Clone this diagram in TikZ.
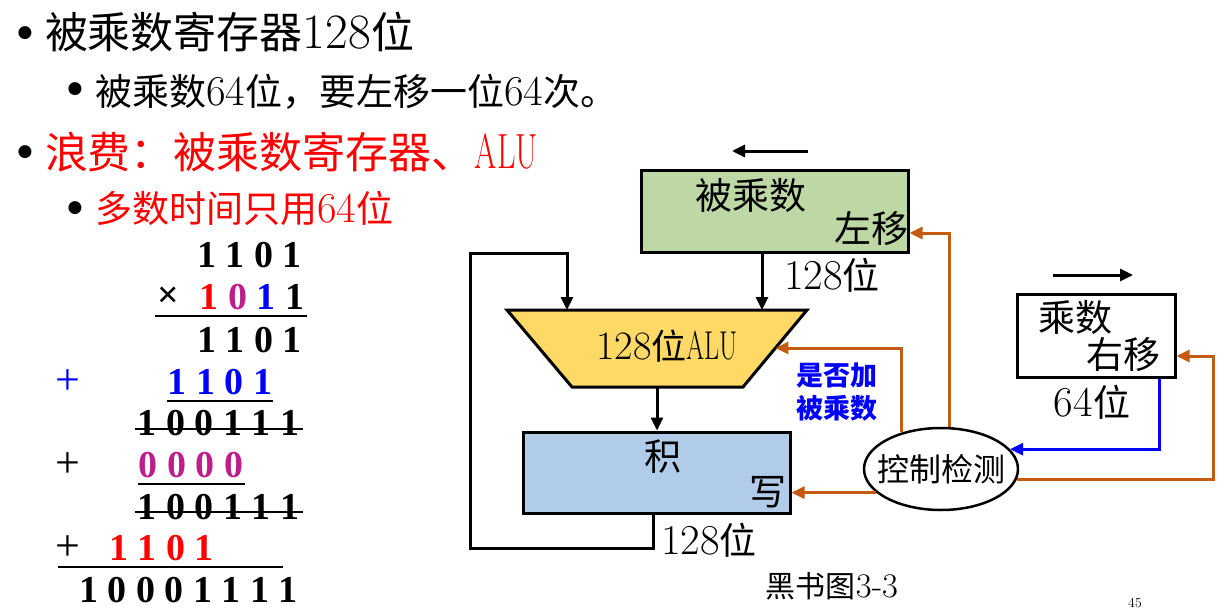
\documentclass[tikz,border=0pt]{standalone}
\usepackage{fontspec}
\usepackage{graphicx}
\setmainfont{Latin Modern Roman}[Scale=1.15]
\newfontfamily\cjk{Noto Sans CJK SC}
\newfontfamily\tnr{Liberation Serif}
\newfontfamily\djv{DejaVu Sans}
\usetikzlibrary{arrows.meta,calc,shapes.geometric}
\definecolor{brn}{HTML}{C55A11}
\definecolor{grn}{RGB}{189,215,165}
\definecolor{gold}{HTML}{FFD966}
\definecolor{lblue}{RGB}{176,204,232}
\definecolor{purp}{RGB}{190,30,140}
\newcommand\zh[1]{{\cjk #1}}
\newcommand\nar[1]{\scalebox{0.65}[1]{#1}}
\newcommand\fs[1]{\fontsize{#1}{#1}\selectfont}
\begin{document}
\begin{tikzpicture}[x=1pt,y=-1pt,
  txt/.style={inner sep=0pt,outer sep=0pt},
  dig/.style={txt,font=\tnr\bfseries\fs{38}},
  pls/.style={txt,font=\tnr\fs{44}},
  bul/.style={txt,font=\djv\fs{17}},
  lab/.style={txt,font=\fs{37}},
  box/.style={draw,line width=3pt,inner sep=0pt},
  uline/.style={line width=2.5pt},
  sline/.style={line width=2pt},
  arr/.style={line width=3pt,line join=miter,-{Triangle[length=13pt,width=12pt]}},
  brarr/.style={arr,draw=brn},
  bluarr/.style={arr,draw=blue}]
\useasboundingbox (0,0) rectangle (1232,610);
\fill[white] (0,0) rectangle (1232,610);

% ---- bullet text ----
\node[bul] (b1) at (25,33) {●};
\node[txt,anchor=base west,font=\fs{43}] (t1) at (45,49) {\zh{被乘数寄存器}128\zh{位}};
\node[bul] (b2) at (75,89) {●};
\node[txt,anchor=base west,font=\fs{37}] (t2) at (95,105) {\zh{被乘数}64\zh{位，要左移一位}64\zh{次。}};
\node[bul] (b3) at (25,152) {●};
\node[txt,anchor=base west,font=\fs{43},text=red] (t3) at (45,168) {\zh{浪费：被乘数寄存器、}\nar{ALU}};
\node[bul] (b4) at (75,208) {●};
\node[txt,anchor=base west,font=\fs{37},text=red] (t4) at (95,222) {\zh{多数时间只用}64\zh{位}};

% ---- arithmetic ----
\node[dig] (r1) at (249.5,255) {1 1 0 1};
\node[dig] (mul) at (168,297) {×};
\node[dig] (r2) at (252,297) {\textcolor{red}{1} \textcolor{purp}{0} \textcolor{blue}{1} 1};
\coordinate (u1a) at (155,316); \coordinate (u1b) at (307,316);
\draw[uline] (u1a) -- (u1b);
\node[dig] (r3) at (249.5,340) {1 1 0 1};
\node[pls,text=blue] (p1) at (68,382) {+};
\node[dig,text=blue] (r4) at (220,382) {1 1 0 1};
\coordinate (u2a) at (167,401); \coordinate (u2b) at (273,401);
\draw[uline] (u2a) -- (u2b);
\node[dig] (r5) at (218.5,423) {1 0 0 1 1 1};
\coordinate (s1a) at (135,429); \coordinate (s1b) at (303,429);
\draw[sline] (s1a) -- (s1b);
\node[pls] (p2) at (68,465) {+};
\node[dig,text=purp] (r6) at (191,465) {0 0 0 0};
\coordinate (u3a) at (138,484); \coordinate (u3b) at (245,484);
\draw[uline] (u3a) -- (u3b);
\node[dig] (r7) at (218.5,507) {1 0 0 1 1 1};
\coordinate (s2a) at (135,512); \coordinate (s2b) at (303,512);
\draw[sline] (s2a) -- (s2b);
\node[pls] (p3) at (68,548) {+};
\node[dig,text=red] (r8) at (161.5,548) {1 1 0 1};
\coordinate (u4a) at (58,567); \coordinate (u4b) at (283,567);
\draw[uline] (u4a) -- (u4b);
\node[dig] (r9) at (188.5,590) {1 0 0 0 1 1 1 1};

% ---- multiplicand register ----
\node[box,fill=grn,minimum width=267pt,minimum height=82pt] (mc) at (774.5,211) {};
\node[lab] (mct) at (751,195) {\zh{被乘数}};
\node[lab] (mcs) at (871,229) {\zh{左移}};
\coordinate (ta1) at (808,151); \coordinate (ta2) at (732,151);
\draw[arr] (ta1) -- (ta2);

% ---- ALU ----
\coordinate (atl) at (507,310); \coordinate (atr) at (807,310);
\coordinate (abr) at (743,387); \coordinate (abl) at (572,387);
\draw[line width=3pt,fill=gold,line join=miter] (atl) -- (atr) -- (abr) -- (abl) -- cycle;
\node[txt,font=\fs{35}] (alu) at (667,346) {128\zh{位}\nar{ALU}};
\coordinate (alur) at ($(atr)!0.4935!(abr)$);

% ---- product register ----
\node[box,fill=lblue,minimum width=267pt,minimum height=81pt] (pr) at (656.5,472.5) {};
\node[lab] (prt) at (663,457) {\zh{积}};
\node[lab] (prs) at (768,492) {\zh{写}};

% ---- multiplier register ----
\node[box,fill=white,minimum width=158pt,minimum height=83pt] (mp) at (1096,335.5) {};
\node[lab] (mpt) at (1075,317) {\zh{乘数}};
\node[lab] (mps) at (1123,355) {\zh{右移}};
\coordinate (tb1) at (1053,275); \coordinate (tb2) at (1133,275);
\draw[arr] (tb1) -- (tb2);

% ---- control ----
\node[draw,ellipse,line width=2.5pt,minimum width=154pt,minimum height=82pt,inner sep=0pt,fill=white] (el) at (941,469) {};
\node[txt,font=\fs{32}] (elt) at (941,469) {\zh{控制检测}};

% ---- black datapath ----
\coordinate (x762) at (762,310);
\draw[arr] (mc.south -| x762) -- (x762);
\coordinate (lp1) at (653,548); \coordinate (lp2) at (470,548);
\coordinate (lp3) at (470,253); \coordinate (lp4) at (567,253);
\coordinate (lp5) at (567,310);
\draw[arr] (pr.south -| lp1) -- (lp1) -- (lp2) -- (lp3) -- (lp4) -- (lp5);
\coordinate (x657) at (657,387);
\draw[arr] (x657) -- (x657 |- pr.north);

% ---- control lines ----
\coordinate (y233) at (0,233);
\draw[brarr] (el.79) |- (mc.east |- y233);
\draw[brarr] (el.137) |- (alur);
\draw[brarr] (el.200) -- (el.200 -| pr.east);
\coordinate (br7) at (1213,356);
\draw[brarr] (el.-8) -| (br7) -- (br7 -| mp.east);
\coordinate (bx) at (1159,0);
\draw[bluarr] (mp.south -| bx) |- (el.16);

% ---- labels ----
\node[lab] (l128a) at (832,275) {128\zh{位}};
\node[lab] (l128b) at (709,540) {128\zh{位}};
\node[lab] (l64) at (1092,402) {64\zh{位}};
\node[txt,font=\fs{27}\bfseries,text=blue] (q1) at (837,375) {\zh{是否加}};
\node[txt,font=\fs{27}\bfseries,text=blue] (q2) at (837,408) {\zh{被乘数}};
\node[txt,font=\fs{30}] (cap) at (832,586) {\zh{黑书图}3-3};
\node[txt,font=\fs{12}] (pg) at (1135,603) {45};
\end{tikzpicture}
\end{document}
